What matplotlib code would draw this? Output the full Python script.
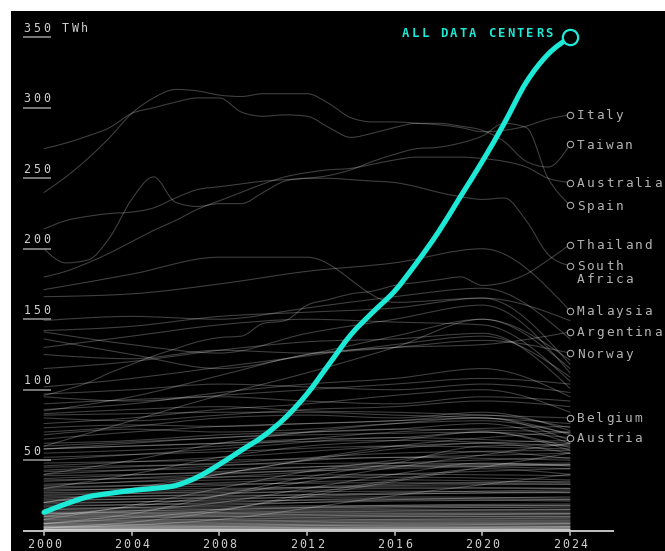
import numpy as np
import matplotlib
matplotlib.use("Agg")
import matplotlib.pyplot as plt
from matplotlib.path import Path
from matplotlib.patches import PathPatch

# ---------------- data ----------------
YEARS_1 = list(range(2000, 2025))
YEARS_4 = [2000, 2004, 2008, 2012, 2016, 2020, 2024]
YEARS_8 = [2000, 2008, 2016, 2024]
X_TICKS = [2000, 2004, 2008, 2012, 2016, 2020, 2024]
Y_TICKS = [50, 100, 150, 200, 250, 300, 350]

DATA_CENTERS = [13, 19, 24, 26.5, 28.5, 30, 32, 38, 47, 57, 67, 80, 97, 118,
                139, 155, 170, 190, 212, 237, 262, 289, 318, 338, 350]

ITALY = [240, 251, 264, 279, 296, 307, 313, 312, 309, 308, 310, 310, 310,
         303, 293, 290, 290, 289, 288, 286, 283, 284, 287, 292, 295]
TAIWAN = [271, 275, 280, 286, 296, 300, 304, 307, 307, 297, 294, 295, 294,
          286, 279, 282, 286, 289, 289, 287, 284, 276, 262, 258, 274]
SPAIN = [214, 220, 223, 225, 226, 229, 236, 242, 244, 246, 248, 249, 250,
         252, 256, 262, 267, 271, 272, 275, 280, 289, 286, 250, 231]
AUSTRALIA = [180, 184, 190, 197, 205, 213, 220, 228, 234, 240, 246, 251, 254,
             256, 257, 260, 263, 265, 265, 265, 264, 262, 258, 250, 247]
SOUTH_AFRICA = [200, 190, 192, 208, 235, 251, 233, 230, 232, 232, 240, 248, 250,
                250, 249, 248, 247, 244, 240, 237, 235, 236, 220, 196, 188]
THAILAND = [96, 100, 105, 112, 118, 124, 129, 134, 137, 138, 147, 149, 160,
            164, 168, 170, 174, 176, 178, 180, 174, 176, 182, 192, 203]

MALAYSIA = [166, 168, 175, 184, 190, 200, 156]
ARGENTINA = [85, 95, 110, 125, 130, 132, 141]
NORWAY = [125, 122, 128, 126, 130, 135, 126]
BELGIUM = [83, 86, 88, 85, 84, 82, 80]
AUSTRIA = [58, 62, 66, 68, 69, 70, 66]

LABELED_ANNUAL = [("Italy", ITALY), ("Taiwan", TAIWAN), ("Australia", AUSTRALIA),
                  ("Spain", SPAIN), ("Thailand", THAILAND), ("South\nAfrica", SOUTH_AFRICA)]
LABELED_4 = [("Malaysia", MALAYSIA), ("Argentina", ARGENTINA), ("Norway", NORWAY),
             ("Belgium", BELGIUM), ("Austria", AUSTRIA)]

# other countries, values at YEARS_4
OTHER_MID = [
    [171, 182, 194, 194, 162, 165, 149],
    [149, 152, 150, 158, 166, 172, 136],
    [142, 145, 152, 155, 158, 165, 118],
    [141, 132, 126, 140, 150, 160, 112],
    [136, 125, 115, 125, 138, 150, 121],
    [130, 138, 146, 150, 148, 146, 106],
    [115, 120, 128, 134, 136, 140, 101],
    [102, 108, 116, 124, 132, 138, 109],
    [60, 78, 96, 112, 130, 150, 115],
    [97, 100, 104, 102, 100, 104, 98],
    [95, 92, 96, 100, 104, 108, 104],
    [90, 93, 95, 92, 90, 95, 92],
    [86, 90, 98, 104, 108, 115, 95],
    [82, 83, 84, 84, 82, 80, 76],
    [80, 78, 82, 86, 88, 92, 88],
    [76, 80, 86, 90, 96, 100, 84],
    [73, 75, 74, 76, 78, 82, 73],
    [70, 74, 80, 82, 80, 84, 71],
    [68, 72, 70, 72, 76, 78, 69],
    [65, 70, 74, 76, 78, 80, 64],
    [62, 64, 68, 70, 72, 76, 62],
    [58, 60, 62, 65, 66, 70, 59],
    [40, 50, 62, 70, 76, 80, 68],
    [30, 40, 52, 60, 64, 70, 57],
    [20, 28, 40, 50, 58, 62, 55],
    [8, 18, 30, 42, 50, 56, 51],
    [5, 12, 25, 38, 48, 60, 61],
    [2, 6, 14, 26, 36, 44, 40],
    [12, 14, 20, 30, 40, 48, 46],
]

# small countries, values at YEARS_8
OTHER_LOW = [
    [60, 66, 72, 70], [58, 62, 64, 60], [55, 60, 70, 74], [52, 56, 60, 58],
    [50, 58, 66, 62], [48, 50, 52, 55], [46, 52, 60, 64], [45, 47, 48, 46],
    [43, 48, 55, 57], [42, 44, 46, 44], [40, 46, 52, 50], [39, 41, 44, 47],
    [37, 42, 48, 52], [36, 38, 40, 39], [35, 40, 46, 48], [33, 36, 38, 36],
    [32, 38, 45, 47], [31, 33, 34, 33], [30, 34, 40, 44], [29, 30, 31, 30],
    [28, 32, 36, 34], [27, 29, 33, 35], [26, 27, 28, 27], [25, 28, 32, 33],
    [24, 25, 26, 28], [23, 26, 30, 30], [22, 23, 24, 23], [21, 24, 27, 29],
    [20, 21, 22, 21], [19, 22, 26, 27], [18, 19, 21, 22], [17, 20, 23, 22],
    [16, 17, 18, 18], [15, 18, 22, 24], [15, 16, 17, 16], [14, 15, 17, 18],
    [13, 15, 18, 19], [13, 13, 14, 14], [12, 14, 16, 17], [12, 12, 13, 13],
    [11, 13, 15, 15], [11, 11, 12, 12], [10, 12, 14, 15], [10, 10, 11, 11],
    [9, 11, 12, 12], [9, 9, 10, 10], [8, 10, 11, 12], [8, 8, 9, 9],
    [7, 8, 10, 10], [7, 7, 8, 8], [6, 7, 8, 9], [6, 6, 7, 7],
    [5, 6, 7, 7], [5, 5, 6, 6], [4, 5, 6, 6], [4, 4, 5, 5],
    [4, 4, 4, 5], [3, 4, 5, 5], [3, 3, 4, 4], [3, 3, 3, 3],
    [2, 3, 4, 4], [2, 2, 3, 3], [2, 2, 2, 2], [2, 2, 2, 3],
    [1, 2, 2, 2], [1, 1, 2, 2], [1, 1, 1, 1], [1, 1, 1, 2],
    [1, 1, 1, 1], [0.5, 1, 1, 1], [0.5, 0.5, 1, 1], [0.5, 0.5, 0.5, 0.5],
    [0.3, 0.4, 0.5, 0.6], [0.3, 0.3, 0.3, 0.3], [0.2, 0.2, 0.3, 0.3],
    [0.2, 0.2, 0.2, 0.2], [0.1, 0.1, 0.2, 0.2], [0.1, 0.1, 0.1, 0.1],
    [5, 15, 35, 55], [10, 25, 45, 62], [20, 40, 60, 70], [2, 8, 25, 40],
]

# ---------------- style ----------------
W, H = 665, 551
CYAN = "#1de9d7"
LINE_COL = (1, 1, 1, 0.25)
MONO = "DejaVu Sans Mono"

PXX = 526 / 24.0                 # px per year
PXY = (530.7 - 37.3) / 350.0     # px per TWh

fig = plt.figure(figsize=(W / 100, H / 100), dpi=100, facecolor="white")
ax = fig.add_axes([11 / W, 0, 654 / W, 540 / H])
ax.set_facecolor("black")
ax.set_xlim(2000 - 33 / PXX, 2024 + 95 / PXX)
ax.set_ylim(-(551 - 530.7) / PXY, (530.7 - 11) / PXY)
for s in ax.spines.values():
    s.set_visible(False)
ax.set_xticks([])
ax.set_yticks([])


def mono_path(xs, ys):
    xs = np.asarray(xs, float)
    ys = np.asarray(ys, float)
    n = len(xs)
    h = np.diff(xs)
    s = np.diff(ys) / h
    m = np.zeros(n)
    for i in range(1, n - 1):
        p = (s[i - 1] * h[i] + s[i] * h[i - 1]) / (h[i - 1] + h[i])
        m[i] = (np.sign(s[i - 1]) + np.sign(s[i])) * min(abs(s[i - 1]), abs(s[i]), 0.5 * abs(p))
    if n > 2:
        m[0] = (3 * s[0] - m[1]) / 2
        m[-1] = (3 * s[-1] - m[-2]) / 2
    else:
        m[:] = s[0]
    verts = [(xs[0], ys[0])]
    codes = [Path.MOVETO]
    for i in range(n - 1):
        verts += [(xs[i] + h[i] / 3, ys[i] + m[i] * h[i] / 3),
                  (xs[i + 1] - h[i] / 3, ys[i + 1] - m[i + 1] * h[i] / 3),
                  (xs[i + 1], ys[i + 1])]
        codes += [Path.CURVE4] * 3
    return Path(verts, codes)


def draw_line(xs, ys, color=LINE_COL, lw=0.8, z=2):
    ax.add_patch(PathPatch(mono_path(xs, ys), facecolor="none", edgecolor=color,
                           lw=lw, zorder=z, capstyle="round", joinstyle="round"))


def spaced(text, x, y, first_dx, dy, adv, **kw):
    """Draw text char by char; first glyph centre at first_dx px from (x, y)."""
    for i, ch in enumerate(text):
        if ch == " ":
            continue
        ax.annotate(ch, (x, y), xytext=(first_dx + i * adv, dy),
                    textcoords="offset pixels", ha="center", va="baseline",
                    family=MONO, annotation_clip=False, **kw)


# background countries
for row in OTHER_LOW:
    draw_line(YEARS_8, row)
for row in OTHER_MID:
    draw_line(YEARS_4, row)
for name, row in LABELED_4:
    draw_line(YEARS_4, row)
for name, row in LABELED_ANNUAL:
    draw_line(YEARS_1, row)

# country labels
labels = [(n, r[-1]) for n, r in LABELED_ANNUAL] + [(n, r[-1]) for n, r in LABELED_4]
for name, v in labels:
    ax.plot([2024], [v], marker="o", ms=4.6, mfc="black", mec="#a8a8a8", mew=0.8,
            zorder=5, clip_on=False)
    for k, part in enumerate(name.split("\n")):
        spaced(part, 2024, v, 10.8, -4.5 - 12.5 * k, 9.6, fontsize=9.2, color="#b4b4b4")

# data centers
draw_line(YEARS_1, DATA_CENTERS, color=CYAN, lw=3.7, z=6)
ax.plot([2024], [DATA_CENTERS[-1]], marker="o", ms=11, mfc="black", mec=CYAN,
        mew=1.6, zorder=7, clip_on=False)
title = "ALL DATA CENTERS"
spaced(title, 2024, DATA_CENTERS[-1], -21 - (len(title) - 1) * 9.54, 0, 9.54,
       fontsize=8.8, color=CYAN, fontweight="bold")

# y ticks with underline
x_ul0 = 2000 - (44 - 22.7) / PXX
x_ul1 = 2000 + (50.7 - 44) / PXX
for t in Y_TICKS:
    ax.plot([x_ul0, x_ul1], [t, t], color="#9a9a9a", lw=1.1, solid_capstyle="butt",
            zorder=4, clip_on=False)
    lab = f"{t} TWh" if t == Y_TICKS[-1] else str(t)
    spaced(lab, x_ul0, t, 4.4, 5.3, 9.6, fontsize=8.4, color="#d2d2d2")

# x axis
ax.plot([x_ul0, 2000 + (614 - 44) / PXX], [0, 0], color="#c4c4c4", lw=1.4,
        solid_capstyle="butt", zorder=8, clip_on=False)
for t in X_TICKS:
    ax.plot([t, t], [0, -4.5 / PXY], color="#c4c4c4", lw=1.1, zorder=8, clip_on=False)
    lab = str(t)
    spaced(lab, t, 0, -1.5 * 9.2, -17.6, 9.2, fontsize=8.4, color="#d2d2d2")

fig.savefig("out.png", dpi=100, facecolor="white")
